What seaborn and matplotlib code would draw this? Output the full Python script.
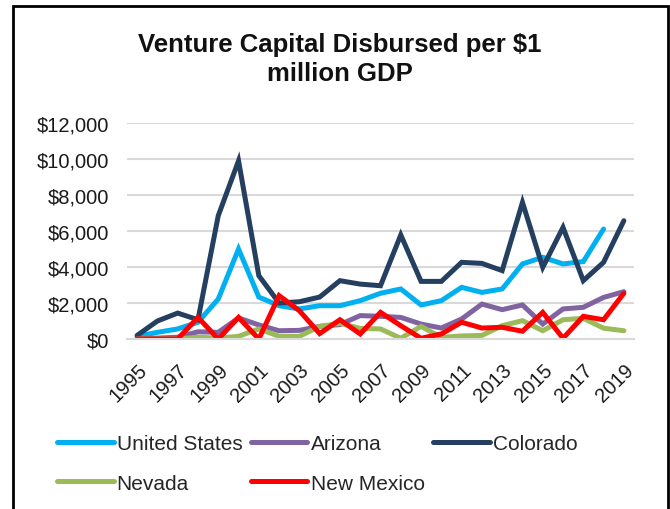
import numpy as np
import pandas as pd
import matplotlib
matplotlib.use("Agg")
import matplotlib.pyplot as plt
import seaborn as sns
from matplotlib.patches import Rectangle
from matplotlib.ticker import FuncFormatter

years = list(range(1995, 2020))
united_states = [150, 370, 560, 930, 2220, 5000, 2330, 1850, 1670, 1850, 1850, 2130, 2540, 2780, 1890,
                 2130, 2870, 2590, 2780, 4170, 4540, 4170, 4300, 6110, np.nan]
arizona = [0, 50, 100, 400, 370, 1170, 780, 460, 480, 700, 800, 1300, 1260, 1200, 830,
           610, 1110, 1940, 1630, 1890, 830, 1670, 1760, 2310, 2630]
colorado = [200, 1000, 1440, 1070, 6850, 9900, 3520, 2000, 2070, 2330, 3240, 3050, 2960, 5780, 3200,
            3200, 4260, 4200, 3800, 7590, 3980, 6200, 3240, 4260, 6570]
nevada = [0, 0, 0, 100, 50, 150, 560, 150, 150, 700, 870, 590, 560, 40, 700,
          90, 170, 200, 740, 1020, 460, 1070, 1150, 600, 460]
new_mexico = [0, 0, 0, 1200, 0, 1200, 0, 2410, 1570, 300, 1070, 280, 1480, 740, 40,
              280, 930, 610, 650, 430, 1480, 40, 1260, 1070, 2540]

series_names = ["United States", "Arizona", "Colorado", "Nevada", "New Mexico"]
series_vals = [united_states, arizona, colorado, nevada, new_mexico]
colors = ["#00B0F0", "#8064A2", "#243F60", "#9BBB59", "#FF0000"]
yticks = [0, 2000, 4000, 6000, 8000, 10000, 12000]
xticks = list(range(1995, 2020, 2))

df = pd.concat([pd.DataFrame({"Year": years, "Value": v, "Series": n})
                for n, v in zip(series_names, series_vals)], ignore_index=True)

sns.set_theme(style="white")
plt.rcParams["font.family"] = ["Liberation Sans", "DejaVu Sans"]

fig = plt.figure(figsize=(6.7, 5.1), dpi=100)
ax = fig.add_axes([127/670, 1 - 340/510, (634-127)/670, (340-124)/510])

sns.lineplot(data=df, x="Year", y="Value", hue="Series", hue_order=series_names,
             palette=colors, linewidth=3.6, ax=ax, legend=False, sort=False)
for line in ax.get_lines():
    line.set_solid_capstyle("round")
    line.set_solid_joinstyle("miter")

ax.set_xlim(1994.5, 2019.5)
ax.set_ylim(0, 12000)
ax.set_yticks(yticks)
ax.yaxis.set_major_formatter(FuncFormatter(lambda v, p: f"${int(v):,}"))
ax.set_xticks(xticks)
ax.set_xticklabels([str(x) for x in xticks], rotation=45, ha="right", rotation_mode="anchor")
ax.tick_params(axis="both", labelsize=14.5, colors="#1a1a1a", length=0)
ax.tick_params(axis="x", pad=15)
ax.tick_params(axis="y", pad=13)
ax.grid(axis="y", color="#D9D9D9", linewidth=1.5)
ax.set_axisbelow(True)
for s in ["top", "right", "left"]:
    ax.spines[s].set_visible(False)
ax.spines["bottom"].set_color("#D9D9D9")
ax.spines["bottom"].set_linewidth(1.5)
ax.set_xlabel("")
ax.set_ylabel("")

fig.text(340/670, 1 - 59.5/510, "Venture Capital Disbursed per $1\nmillion GDP",
         ha="center", va="center", fontsize=18.5, fontweight="bold",
         linespacing=1.22, color="#111111")

handles = {n: plt.Line2D([], [], color=c, linewidth=3.6, solid_capstyle="round")
           for n, c in zip(series_names, colors)}
order = ["United States", "Nevada", "Arizona", "New Mexico", "Colorado"]
fig.legend([handles[n] for n in order], order, ncol=3, loc="upper left",
           bbox_to_anchor=(49/670, 1 - 427/510), frameon=False, fontsize=15,
           handlelength=2.7, handletextpad=0.15, columnspacing=0.42,
           labelspacing=0.97, borderaxespad=0)

fig.add_artist(Rectangle((13/670, -0.02), (668-13)/670, 1 - 7/510 + 0.02,
                         transform=fig.transFigure, fill=False, edgecolor="black",
                         linewidth=2))

fig.savefig("out.png", dpi=100, facecolor="white")
